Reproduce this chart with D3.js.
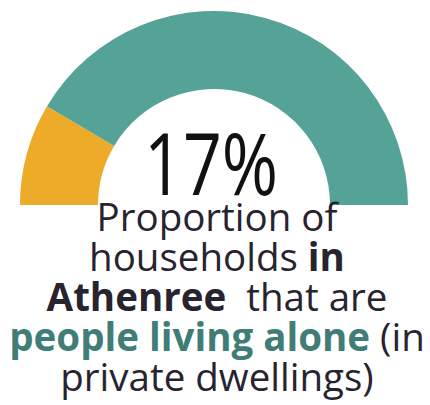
<!DOCTYPE html>
<html>
<head>
<meta charset="utf-8">
<script src="https://cdn.jsdelivr.net/npm/d3@7/dist/d3.min.js"></script>
<style>
  html, body { margin: 0; padding: 0; background: #ffffff; }
  svg { display: block; }
  .reg { font-weight: 400; fill: #27232f; }
  .bold { font-weight: 700; fill: #27232f; }
  .accent { font-weight: 700; fill: #3f7d76; }
</style>
</head>
<body>
<script>
// ---- data ----
const categories = ["People living alone", "Other households"];
const values = [17, 83];
const headingText = "alone";
const captionLines = [
  [["Proportion of", "reg"]],
  [["households ", "reg"], ["in", "bold"]],
  [["Athenree", "bold"], ["\u00a0 that are", "reg"]],
  [["people living alone", "accent"], [" (in", "reg"]],
  [["private dwellings)", "reg"]]
];

// ---- chart ----
const W = 430, H = 405;
const cx = 214, cy = 205, rOuter = 194, rInner = 116;

const svg = d3.select("body").append("svg")
  .attr("width", W).attr("height", H);

// partially visible heading at top (cut off by the frame)
svg.append("text")
  .attr("x", 3).attr("y", -0.5)
  .attr("font-family", "Lato, 'Open Sans', sans-serif")
  .attr("font-size", 50)
  .attr("font-weight", 800)
  .attr("fill", "#2d6354")
  .attr("letter-spacing", 2)
  .text(headingText);

const color = d3.scaleOrdinal()
  .domain(categories)
  .range(["#edab2a", "#55a397"]);

const pie = d3.pie()
  .sort(null)
  .startAngle(-Math.PI / 2)
  .endAngle(Math.PI / 2)
  .value(d => d.value);

const arc = d3.arc().innerRadius(rInner).outerRadius(rOuter);

const data = categories.map((c, i) => ({ category: c, value: values[i] }));

svg.append("g")
  .attr("transform", `translate(${cx},${cy})`)
  .selectAll("path")
  .data(pie(data))
  .join("path")
  .attr("d", arc)
  .attr("fill", d => color(d.data.category));

// central percentage
const pct = values[0] / d3.sum(values);
svg.append("text")
  .attr("x", 211).attr("y", 195)
  .attr("text-anchor", "middle")
  .attr("font-family", "'Open Sans', sans-serif")
  .attr("font-weight", 400)
  .attr("font-size", 86)
  .attr("textLength", 134)
  .attr("lengthAdjust", "spacingAndGlyphs")
  .attr("fill", "#111111")
  .text(d3.format(".0%")(pct));

// caption
const cap = svg.append("g")
  .attr("font-family", "'Open Sans', sans-serif")
  .attr("font-size", 38.5)
  .attr("text-anchor", "middle");

cap.selectAll("text")
  .data(captionLines)
  .join("text")
  .attr("x", 217)
  .attr("y", (d, i) => 231 + i * 40)
  .selectAll("tspan")
  .data(d => d)
  .join("tspan")
  .attr("class", d => d[1])
  .text(d => d[0]);
</script>
</body>
</html>
